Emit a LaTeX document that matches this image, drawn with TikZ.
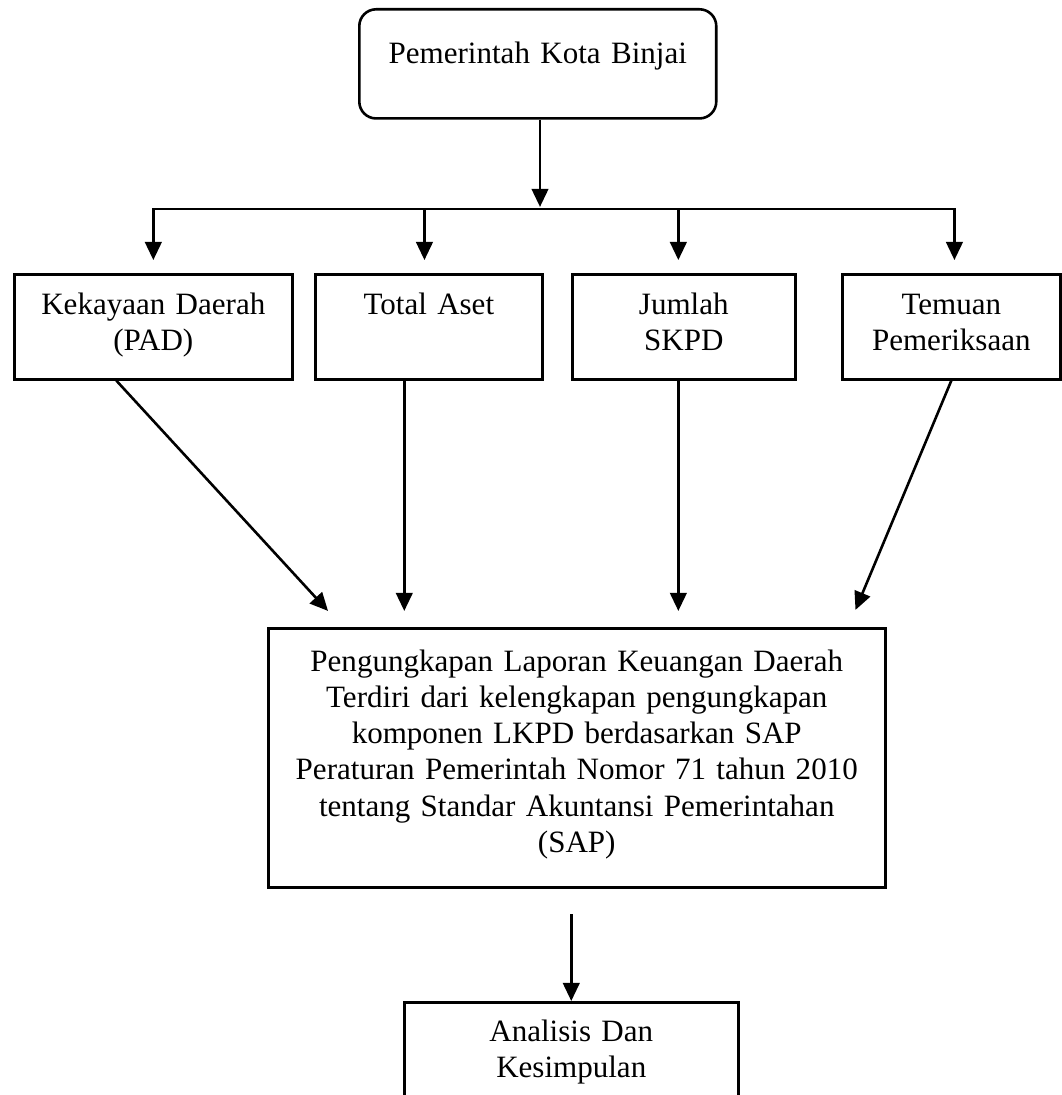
\documentclass[tikz,border=0pt]{standalone}
\usepackage{fontspec}
\setmainfont{Liberation Serif}
\usepackage{tikz}
\usetikzlibrary{positioning,arrows.meta}

\begin{document}
\begin{tikzpicture}[
    x=0.3866pt, y=-0.3866pt,
    font=\fontsize{12pt}{14pt}\selectfont,
    kotak/.style={rectangle, draw, line width=1pt, inner sep=0pt,
      align=center, anchor=north west},
    kotakbaris/.style={kotak, text height=15.5pt, text depth=25.1pt},
    panah/.style={draw, line width=1pt, -{Triangle[length=7pt, width=6.4pt]}}
  ]
    \useasboundingbox (0,0) rectangle (1062,1095);

    \node[kotak, rounded corners=6.5pt, text width=138pt,
      text height=20.9pt, text depth=21.3pt] (atas) at (358,8)
      {Pemerintah Kota Binjai};

    \node[kotakbaris, text width=107.5pt] (pad) at (13,273)
      {Kekayaan Daerah\\(PAD)};
    \node[kotakbaris, text width=87.8pt] (aset) at (314,273) {Total Aset};
    \node[kotakbaris, text width=86.2pt] (skpd) at (571,273) {Jumlah\\SKPD};
    \node[kotakbaris, text width=84.3pt] (temuan) at (841,273)
      {Temuan\\Pemeriksaan};

    \node[kotak, text width=238.5pt, text height=16.6pt, text depth=83.5pt]
      (lkpd) at (267,627)
      {Pengungkapan Laporan Keuangan Daerah\\
       Terdiri dari kelengkapan pengungkapan\\
       komponen LKPD berdasarkan SAP\\
       Peraturan Pemerintah Nomor 71 tahun 2010\\
       tentang Standar Akuntansi Pemerintahan\\
       (SAP)};

    \node[kotak, text width=129.1pt, text height=15.1pt, text depth=27.1pt]
      (analisis) at (403,1001) {Analisis Dan\\Kesimpulan};

    % cabang ke empat variabel
    \coordinate (cabang) at (540,209);
    \draw[panah, shorten >=0.8pt] (atas.south -| cabang) -- (cabang);
    \draw[panah, shorten >=5pt] (cabang) -| (pad.north);
    \draw[panah, shorten >=5pt] (cabang) -| ([xshift=-1.7pt]aset.north);
    \draw[panah, shorten >=5pt] (cabang) -| ([xshift=-2.1pt]skpd.north);
    \draw[panah, shorten >=5pt] (cabang) -| ([xshift=1.2pt]temuan.north);

    % variabel ke pengungkapan
    \draw[panah] ([xshift=-14.3pt]pad.south)
      -- ([xshift=23.6pt, yshift=6.2pt]lkpd.north west);
    \coordinate (p2) at ([xshift=-9.5pt]aset.south);
    \draw[panah, shorten >=6.2pt] (p2) -- (p2 |- lkpd.north);
    \coordinate (p3) at ([xshift=-2.1pt]skpd.south);
    \draw[panah, shorten >=6.2pt] (p3) -- (p3 |- lkpd.north);
    \draw[panah] (temuan.south)
      -- ([xshift=-12pt, yshift=6.6pt]lkpd.north east);

    \draw[panah] ([yshift=-10pt]lkpd.south -| analisis.north) -- (analisis.north);
  \end{tikzpicture}
\end{document}
